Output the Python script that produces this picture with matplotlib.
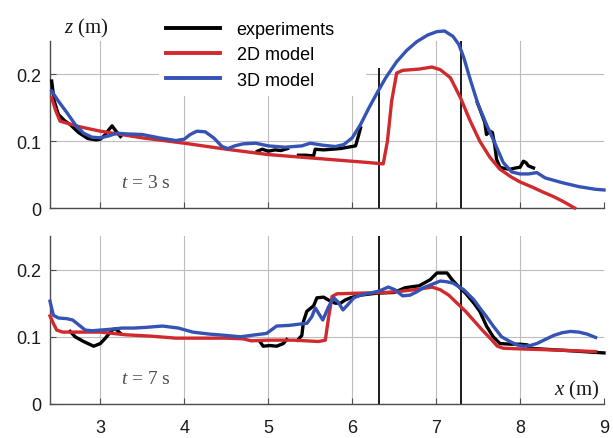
import numpy as np
import matplotlib
matplotlib.use("Agg")
import matplotlib.pyplot as plt

nan = np.nan

# ---- data ----
# t = 3 s
top_exp_x = [2.42, 2.45, 2.5, 2.58, 2.64, 2.74, 2.85, 2.95, 3.0, 3.06, 3.1, 3.14, 3.18, 3.24, nan,
             4.87, 4.93, 5.0, 5.08, 5.15, 5.23, nan,
             5.36, 5.45, 5.54, 5.56, 5.66, 5.76, 5.86, 5.95, 6.04, 6.07, 6.1, nan,
             7.49, 7.53, 7.58, 7.6, 7.64, 7.67, 7.7, 7.72, 7.76, 7.82, 7.88, 7.95, 8.0, 8.04, 8.07, 8.1, 8.16]
top_exp_z = [0.19, 0.16, 0.14, 0.13, 0.125, 0.113, 0.104, 0.102, 0.103, 0.11, 0.117, 0.123, 0.116, 0.107, nan,
             0.085, 0.088, 0.085, 0.087, 0.086, 0.089, nan,
             0.079, 0.079, 0.078, 0.088, 0.087, 0.088, 0.089, 0.091, 0.093, 0.106, 0.12, nan,
             0.158, 0.145, 0.128, 0.11, 0.115, 0.113, 0.093, 0.073, 0.061, 0.059, 0.058, 0.06, 0.061, 0.07, 0.068, 0.063, 0.06]

top_2d_x = [2.42, 2.47, 2.52, 2.74, 3.0, 3.5, 4.0, 4.5, 5.0, 5.5, 6.0, 6.2, 6.37, 6.42, 6.47, 6.53,
            6.6, 6.8, 6.95, 7.05, 7.17, 7.29, 7.4, 7.52, 7.64, 7.76, 7.9, 8.0, 8.15, 8.27, 8.4, 8.51, 8.58, 8.65]
top_2d_z = [0.165, 0.145, 0.13, 0.122, 0.115, 0.105, 0.097, 0.088, 0.08, 0.075, 0.07, 0.068, 0.066, 0.1, 0.16, 0.202,
            0.206, 0.208, 0.211, 0.207, 0.195, 0.165, 0.132, 0.1, 0.076, 0.058, 0.046, 0.039, 0.031, 0.024, 0.017, 0.010, 0.005, 0.0]

top_3d_x = [2.42, 2.5, 2.6, 2.7, 2.8, 2.9, 3.0, 3.1, 3.2, 3.3, 3.5, 3.7, 3.9, 4.0, 4.07, 4.15, 4.25, 4.35,
            4.45, 4.52, 4.6, 4.7, 4.85, 5.0, 5.2, 5.4, 5.5, 5.65, 5.8, 5.9, 6.0, 6.1, 6.2, 6.3, 6.4, 6.53,
            6.65, 6.77, 6.9, 7.01, 7.1, 7.2, 7.27, 7.33, 7.4, 7.5, 7.6, 7.7, 7.8, 7.9, 8.0, 8.1, 8.2, 8.3,
            8.5, 8.7, 8.9, 9.0]
top_3d_z = [0.175, 0.16, 0.143, 0.125, 0.112, 0.106, 0.105, 0.108, 0.112, 0.111, 0.11, 0.105, 0.101, 0.103, 0.11, 0.115, 0.114, 0.105,
            0.092, 0.089, 0.093, 0.096, 0.097, 0.093, 0.091, 0.093, 0.097, 0.094, 0.092, 0.095, 0.105, 0.125, 0.15, 0.173, 0.195, 0.219,
            0.236, 0.249, 0.259, 0.264, 0.265, 0.257, 0.245, 0.225, 0.195, 0.155, 0.125, 0.097, 0.068, 0.054, 0.051, 0.051, 0.053, 0.045,
            0.038, 0.032, 0.028, 0.027]

# t = 7 s
bot_exp_x = [2.64, 2.7, 2.8, 2.92, 3.0, 3.06, 3.14, 3.18, 3.24, nan,
             4.9, 4.94, 5.02, 5.1, 5.18, 5.22, nan,
             5.35, 5.4, 5.42, 5.46, 5.54, 5.58, 5.66, 5.74, 5.8, 5.86, 5.92, 5.98, 6.1, 6.3, 6.5, 6.63,
             6.8, 6.93, 7.01, 7.13, 7.19, 7.25, 7.35, 7.45, 7.52, 7.6, 7.68, 7.76, 7.88, 8.0, 8.08, nan,
             8.1, 8.5, 9.0]
bot_exp_z = [0.108, 0.1, 0.093, 0.086, 0.09, 0.098, 0.11, 0.112, 0.105, nan,
             0.093, 0.086, 0.087, 0.086, 0.09, 0.096, nan,
             0.095, 0.102, 0.123, 0.138, 0.146, 0.158, 0.159, 0.153, 0.15, 0.15, 0.155, 0.158, 0.162, 0.165, 0.166, 0.173,
             0.176, 0.185, 0.195, 0.195, 0.185, 0.177, 0.165, 0.15, 0.138, 0.116, 0.1, 0.09, 0.089, 0.089, 0.088, nan,
             0.083, 0.08, 0.076]

bot_2d_x = [2.4, 2.44, 2.48, 2.55, 3.0, 3.3, 3.6, 3.9, 4.2, 4.5, 4.7, 4.8, 5.0, 5.3, 5.6, 5.68, 5.72, 5.76,
            5.82, 6.1, 6.4, 6.6, 6.8, 6.95, 7.05, 7.15, 7.25, 7.35, 7.45, 7.55, 7.65, 7.73, 7.8, 8.0, 8.5, 8.9]
bot_2d_z = [0.131, 0.12, 0.11, 0.107, 0.107, 0.103, 0.101, 0.098, 0.098, 0.098, 0.097, 0.094, 0.095, 0.095, 0.093, 0.095, 0.13, 0.16,
            0.164, 0.165, 0.166, 0.168, 0.171, 0.174, 0.17, 0.162, 0.15, 0.138, 0.124, 0.11, 0.097, 0.086, 0.083, 0.082, 0.08, 0.078]

bot_3d_x = [2.4, 2.44, 2.5, 2.6, 2.67, 2.75, 2.82, 2.9, 3.0, 3.1, 3.26, 3.4, 3.54, 3.74, 3.93, 4.1, 4.3, 4.5,
            4.67, 4.85, 4.98, 5.1, 5.25, 5.38, 5.46, 5.52, 5.56, 5.6, 5.65, 5.72, 5.78, 5.83, 5.89, 5.95, 6.02,
            6.1, 6.21, 6.32, 6.43, 6.51, 6.6, 6.69, 6.77, 6.85, 6.95, 7.05, 7.12, 7.2, 7.33, 7.45, 7.52, 7.6,
            7.68, 7.78, 7.88, 7.96, 8.04, 8.12, 8.2, 8.3, 8.4, 8.5, 8.6, 8.7, 8.8, 8.9]
bot_3d_z = [0.153, 0.132, 0.128, 0.127, 0.125, 0.117, 0.11, 0.109, 0.11, 0.111, 0.113, 0.113, 0.114, 0.116, 0.113, 0.107, 0.104, 0.102,
            0.1, 0.103, 0.105, 0.116, 0.117, 0.119, 0.12, 0.13, 0.143, 0.135, 0.125, 0.145, 0.158, 0.152, 0.14, 0.148, 0.158,
            0.162, 0.165, 0.168, 0.174, 0.17, 0.161, 0.162, 0.167, 0.173, 0.178, 0.183, 0.182, 0.18, 0.17, 0.155, 0.143, 0.13,
            0.116, 0.1, 0.093, 0.088, 0.086, 0.087, 0.09, 0.096, 0.102, 0.106, 0.108, 0.107, 0.104, 0.099]

# vertical structure lines (x position, top height per panel)
gate_x = [6.32, 7.3]
gate_top_3s = [0.21, 0.25]
gate_top_7s = [0.25, 0.25]

x_ticks = [3, 4, 5, 6, 7, 8, 9]
z_ticks = [0, 0.1, 0.2]
z_ticklabels = ["0", "0.1", "0.2"]

RED = "#d02a2e"
BLUE = "#3552b5"

plt.rcParams["font.family"] = ["Liberation Sans", "DejaVu Sans"]
plt.rcParams["mathtext.fontset"] = "custom"
plt.rcParams["mathtext.it"] = "Liberation Serif:italic"
plt.rcParams["mathtext.rm"] = "Liberation Serif"

fig = plt.figure(figsize=(6.13, 4.39), dpi=100)
W, H = 613.0, 439.0
ax1 = fig.add_axes([50 / W, 1 - 209 / H, 554 / W, 167 / H])
ax2 = fig.add_axes([50 / W, 1 - 405 / H, 554 / W, 168 / H])

panels = [
    (ax1, top_exp_x, top_exp_z, top_2d_x, top_2d_z, top_3d_x, top_3d_z, gate_top_3s, "3"),
    (ax2, bot_exp_x, bot_exp_z, bot_2d_x, bot_2d_z, bot_3d_x, bot_3d_z, gate_top_7s, "7"),
]

for ax, ex, ez, rx, rz, bx, bz, gtop, tval in panels:
    ax.set_xlim(2.4, 9.0)
    ax.set_ylim(0, 0.25)
    ax.set_xticks(x_ticks)
    ax.set_yticks(z_ticks)
    ax.set_yticklabels(z_ticklabels)
    ax.grid(True, color="0.74", lw=0.8)
    ax.set_axisbelow(True)
    ax.xaxis.get_gridlines()[-1].set_visible(False)
    for s in ["top", "right"]:
        ax.spines[s].set_visible(False)
    for s in ["left", "bottom"]:
        ax.spines[s].set_color("0.3")
        ax.spines[s].set_linewidth(1.0)
    ax.tick_params(direction="in", length=4, width=0.8, color="0.3",
                   labelsize=13, labelcolor="0.1")
    ax.tick_params(axis="y", pad=6)
    ax.tick_params(axis="x", pad=11)

    ax.vlines(gate_x, 0, gtop, color="0.1", lw=1.4, zorder=2)
    ax.plot(ex, ez, color="black", lw=2.4, label="experiments", zorder=3, clip_on=False)
    ax.plot(rx, rz, color=RED, lw=2.4, label="2D model", zorder=4, clip_on=False)
    ax.plot(bx, bz, color=BLUE, lw=2.4, label="3D model", zorder=5, clip_on=False)

    ax.text(3.54, 0.145 * 0.25 + 0.002, r"$t$ = " + tval + " s", fontsize=14,
            family="Liberation Serif", color="0.3", ha="center", va="center")

ax1.tick_params(axis="x", labelbottom=False)

fig.text(86 / W, 1 - 28 / H, r"$z$ (m)", fontsize=15, family="Liberation Serif",
         ha="center", va="center", color="0.1")
ax2.text(8.68, 0.021, r"$x$ (m)", fontsize=15, family="Liberation Serif",
         ha="center", va="center", color="0.1")

leg = ax1.legend(loc="upper left", bbox_to_anchor=(150 / W, 1 - 6 / H, (375 - 150) / W, 0),
                 bbox_transform=fig.transFigure, mode="expand", fontsize=13,
                 handlelength=3.0, handletextpad=0.9, labelspacing=0.45,
                 borderpad=0.4, frameon=True, fancybox=False, framealpha=1)
leg.get_frame().set_facecolor("white")
leg.get_frame().set_edgecolor("none")
for h in leg.legend_handles:
    h.set_linewidth(2.8)

fig.savefig("out.png", dpi=100)
